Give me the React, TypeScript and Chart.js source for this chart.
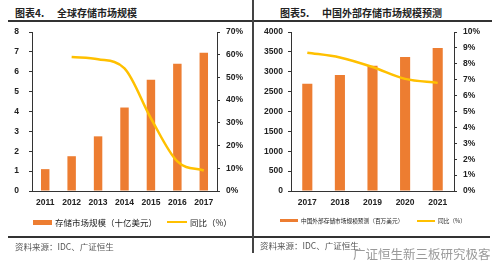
import React, { useEffect, useRef } from "react";
import { Chart, registerables } from "chart.js";

Chart.register(...registerables);

// ---- Data: chart 4 (global storage market) ----
const years4 = ["2011", "2012", "2013", "2014", "2015", "2016", "2017"];
const market4 = [1.1, 1.75, 2.75, 4.2, 5.6, 6.4, 6.95];
const yoy4 = [null, 59, 58, 54, 32, 13, 9];
const label4Bar = "存储市场规模（十亿美元）";
const label4Line = "同比（%）";

// ---- Data: chart 5 (China external storage market forecast) ----
const years5 = ["2017", "2018", "2019", "2020", "2021"];
const market5 = [2700, 2920, 3150, 3370, 3600];
const yoy5 = [8.7, 8.4, 7.8, 7.05, 6.8];
const label5Bar = "中国外部存储市场规模预测（百万美元）";
const label5Line = "同比（%）";

const ORANGE = "#ED7D31";
const YELLOW = "#FFC000";
const AXIS = "#333333";
const TICK_FONT = { family: "'Liberation Sans', Arial, sans-serif", size: 8.5, weight: "bold" as const };

function makeConfig(opts: {
  labels: string[];
  bars: number[];
  line: (number | null)[];
  barLabel: string;
  lineLabel: string;
  yMax: number;
  yStep: number;
  y1Max: number;
  y1Step: number;
  leftW: number;
  rightW: number;
  leftPad: number;
  rightPad: number;
  barPct: number;
  xH: number;
}): any {
  return {
    type: "bar",
    data: {
      labels: opts.labels,
      datasets: [
        {
          type: "bar",
          label: opts.barLabel,
          data: opts.bars,
          backgroundColor: ORANGE,
          borderWidth: 0,
          yAxisID: "y",
          order: 2,
          barPercentage: opts.barPct,
          categoryPercentage: 1,
        },
        {
          type: "line",
          label: opts.lineLabel,
          data: opts.line,
          borderColor: YELLOW,
          backgroundColor: YELLOW,
          borderWidth: 2.5,
          pointRadius: 0,
          cubicInterpolationMode: "monotone",
          yAxisID: "y1",
          order: 1,
        },
      ],
    },
    options: {
      responsive: false,
      animation: false,
      devicePixelRatio: 1,
      layout: { padding: { top: 8, left: 0, right: 0, bottom: 0 } },
      plugins: {
        tooltip: { enabled: false },
        legend: { display: false },
      },
      scales: {
        x: {
          grid: { display: true, drawOnChartArea: false, drawTicks: false, color: AXIS },
          border: { display: true, color: AXIS, width: 1 },
          ticks: { color: "#222", font: TICK_FONT, padding: 7, maxRotation: 0 },
          afterFit: (s: any) => {
            s.height = opts.xH;
          },
        },
        y: {
          position: "left",
          min: 0,
          max: opts.yMax,
          grid: { display: true, drawOnChartArea: false, drawTicks: true, tickLength: 3, color: AXIS },
          border: { display: true, color: AXIS, width: 1 },
          ticks: {
            stepSize: opts.yStep,
            color: "#222",
            font: TICK_FONT,
            padding: opts.leftPad,
            callback: (v: any) => String(v),
          },
          afterFit: (s: any) => {
            s.width = opts.leftW;
            s.paddingTop = 0;
            s.paddingBottom = 0;
          },
        },
        y1: {
          position: "right",
          min: 0,
          max: opts.y1Max,
          grid: { display: true, drawOnChartArea: false, drawTicks: true, tickLength: 3, color: AXIS },
          border: { display: true, color: AXIS, width: 1 },
          ticks: {
            stepSize: opts.y1Step,
            color: "#222",
            font: TICK_FONT,
            padding: opts.rightPad,
            callback: (v: any) => v + "%",
          },
          afterFit: (s: any) => {
            s.width = opts.rightW;
            s.paddingTop = 0;
            s.paddingBottom = 0;
          },
        },
      },
    },
  };
}

function ChartCanvas({ config, width, height, style }: any) {
  const ref = useRef<HTMLCanvasElement | null>(null);
  useEffect(() => {
    if (!ref.current) return;
    const c = new Chart(ref.current, config);
    return () => c.destroy();
  }, []);
  return <canvas ref={ref} width={width} height={height} style={{ position: "absolute", width, height, ...style }} />;
}

const abs = (s: any) => ({ position: "absolute" as const, ...s });

export default function App() {
  const cfg4 = makeConfig({
    labels: years4,
    bars: market4,
    line: yoy4,
    barLabel: label4Bar,
    lineLabel: label4Line,
    yMax: 8,
    yStep: 1,
    y1Max: 70,
    y1Step: 10,
    leftW: 32,
    rightW: 33,
    leftPad: 10,
    rightPad: 6,
    barPct: 0.32,
    xH: 45,
  });
  const cfg5 = makeConfig({
    labels: years5,
    bars: market5,
    line: yoy5,
    barLabel: label5Bar,
    lineLabel: label5Line,
    yMax: 4000,
    yStep: 500,
    y1Max: 10,
    y1Step: 1,
    leftW: 39,
    rightW: 44,
    leftPad: 5,
    rightPad: 6,
    barPct: 0.31,
    xH: 45,
  });

  const titleFont = { fontFamily: "'Noto Sans CJK SC', sans-serif", fontWeight: 700, fontSize: 10, color: "#222", lineHeight: "12px" };
  const footFont = { fontFamily: "'Noto Sans CJK SC', serif", fontSize: 8.5, color: "#555", lineHeight: "10px" };
  const leg4Font = { fontFamily: "'Noto Sans CJK SC', sans-serif", fontSize: 8.5, color: "#222", lineHeight: "10px", whiteSpace: "nowrap" };
  const leg5Font = { fontFamily: "'Noto Sans CJK SC', sans-serif", fontSize: 5.7, color: "#222", lineHeight: "7px", whiteSpace: "nowrap" };

  return (
    <div style={abs({ left: 0, top: 0, width: 498, height: 277, background: "#fff", overflow: "hidden" })}>
      {/* titles */}
      <div style={abs({ left: 15, top: 7, ...titleFont })}>图表4.</div>
      <div style={abs({ left: 57, top: 7, ...titleFont })}>全球存储市场规模</div>
      <div style={abs({ left: 280, top: 7, ...titleFont })}>图表5.</div>
      <div style={abs({ left: 322, top: 7, ...titleFont })}>中国外部存储市场规模预测</div>

      {/* rules */}
      <div style={abs({ left: 8, top: 20, width: 244, height: 2, background: "#333" })} />
      <div style={abs({ left: 252, top: 20, width: 240, height: 2, background: "#333" })} />
      <div style={abs({ left: 252, top: 0, width: 2, height: 253, background: "#444" })} />
      <div style={abs({ left: 8, top: 236, width: 244, height: 2, background: "#333" })} />
      <div style={abs({ left: 254, top: 236, width: 236, height: 2, background: "#333" })} />

      {/* charts */}
      <ChartCanvas config={cfg4} width={250} height={212} style={{ left: 0, top: 24 }} />
      <ChartCanvas config={cfg5} width={246} height={212} style={{ left: 252, top: 24 }} />

      {/* legends */}
      <div style={abs({ left: 33, top: 220, width: 19, height: 5, background: ORANGE })} />
      <div style={abs({ left: 55, top: 217, ...leg4Font })}>{label4Bar}</div>
      <div style={abs({ left: 167, top: 221, width: 20, height: 2, background: YELLOW })} />
      <div style={abs({ left: 190, top: 217, ...leg4Font })}>{label4Line}</div>

      <div style={abs({ left: 280, top: 219, width: 18, height: 3, background: ORANGE })} />
      <div style={abs({ left: 301, top: 217, ...leg5Font })}>{label5Bar}</div>
      <div style={abs({ left: 417, top: 219.5, width: 18, height: 2, background: YELLOW })} />
      <div style={abs({ left: 438, top: 217, ...leg5Font })}>{label5Line}</div>

      {/* footers */}
      <div style={abs({ left: 15, top: 241, ...footFont })}>资料来源：IDC、广证恒生</div>
      <div style={abs({ left: 260, top: 240, ...footFont })}>资料来源：IDC、广证恒生</div>
      <div style={abs({ left: 353, top: 246, fontFamily: "'Noto Sans CJK SC', sans-serif", fontSize: 12.5, color: "#9a9a9a", lineHeight: "15px" })}>
        广证恒生新三板研究极客
      </div>
    </div>
  );
}
